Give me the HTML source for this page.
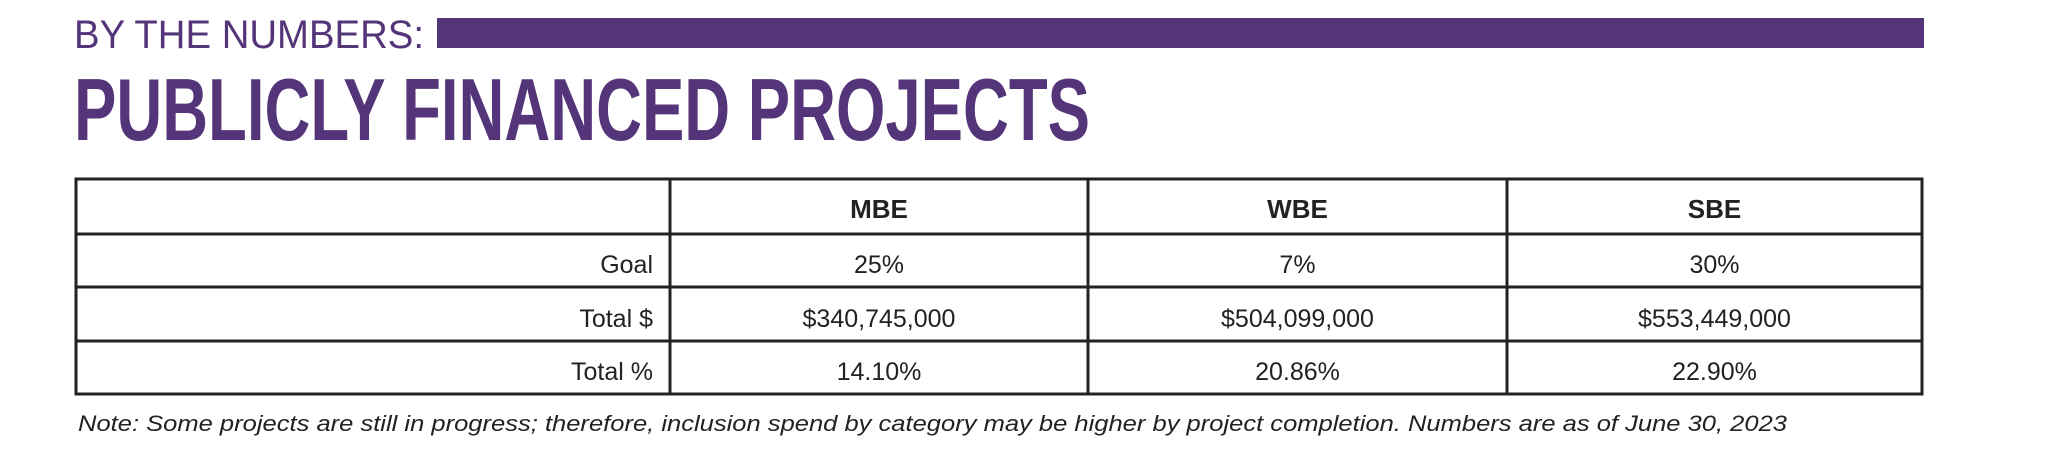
<!DOCTYPE html>
<html><head><meta charset="utf-8"><style>
html,body{margin:0;padding:0;background:#fff;}
svg{display:block;}
text{font-family:"Liberation Sans Narrow","Liberation Sans",sans-serif;}
</style></head><body>
<svg width="2048" height="451" viewBox="0 0 2048 451">
<text x="74" y="48" font-size="40" fill="#54357a" textLength="350" lengthAdjust="spacingAndGlyphs">BY THE NUMBERS:</text>
<rect x="437" y="18" width="1487" height="30" fill="#54357a"/>
<text x="74" y="140" font-size="88" font-weight="bold" fill="#54357a" textLength="1016" lengthAdjust="spacingAndGlyphs">PUBLICLY FINANCED PROJECTS</text>
<g id="tbl"></g>
<text x="78" y="431" font-size="22" font-style="italic" fill="#222" textLength="1709" lengthAdjust="spacingAndGlyphs">Note: Some projects are still in progress; therefore, inclusion spend by category may be higher by project completion. Numbers are as of June 30, 2023</text>
</svg>
<script>
const categories=["MBE","WBE","SBE"];
const rowLabels=["Goal","Total $","Total %"];
const goalValues=["25%","7%","30%"];
const totalDollars=["$340,745,000","$504,099,000","$553,449,000"];
const totalPercents=["14.10%","20.86%","22.90%"];
const NS="http://www.w3.org/2000/svg";
const g=document.getElementById('tbl');
const colX=[76,670,1088,1507,1922];
const rowY=[179,234,287,341,394];
function mk(tag,attrs){const e=document.createElementNS(NS,tag);for(const k in attrs)e.setAttribute(k,attrs[k]);g.appendChild(e);return e;}
// lines
rowY.forEach((y,i)=>{const l=mk('line',{x1:colX[0]-1.5,x2:colX[4]+1.5,y1:y,y2:y,stroke:'#222','stroke-width':3});

});
colX.forEach((x,i)=>{const l=mk('line',{x1:x,x2:x,y1:rowY[0],y2:rowY[4],stroke:'#222','stroke-width':3});

});
function txt(s,x,y,anchor,bold,name){const t=mk('text',{x:x,y:y,'text-anchor':anchor,'font-size':bold?26:25,fill:'#222'});
if(bold)t.setAttribute('font-weight','bold');
t.textContent=s;

}
const base=[218,273,327,380];
categories.forEach((c,i)=>txt(c,(colX[i+1]+colX[i+2])/2,base[0],'middle',true,'header-'+c.toLowerCase()));
rowLabels.forEach((r,i)=>txt(r,653,base[i+1],'end',false,'row-label-'+i));
const rows=[goalValues,totalDollars,totalPercents];
rows.forEach((vals,ri)=>vals.forEach((v,ci)=>txt(v,(colX[ci+1]+colX[ci+2])/2,base[ri+1],'middle',false,'cell-'+rowLabels[ri].toLowerCase().replace(/[^a-z]+/g,'-')+categories[ci].toLowerCase())));
</script>
</body></html>
